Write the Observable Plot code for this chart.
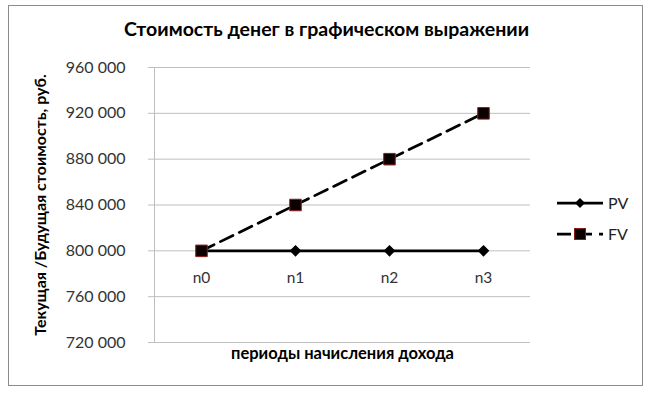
<!DOCTYPE html>
<html><head><meta charset="utf-8">
<script src="https://cdn.jsdelivr.net/npm/d3@7"></script>
<script src="https://cdn.jsdelivr.net/npm/@observablehq/plot@0.6"></script>
<style>
body{margin:0;background:#fff;font-family:Lato,"Noto Sans",sans-serif;}
#wrap{position:relative;width:653px;height:397px;overflow:hidden;}
#frame{position:absolute;left:8px;top:5px;width:635px;height:381px;border:1px solid #8c8c8c;box-sizing:border-box;}
#title{position:absolute;left:0;width:653px;top:17px;text-align:center;font-weight:bold;font-size:19.5px;color:#000;}
#chart{position:absolute;left:0;top:0;}
#legend{position:absolute;left:555px;top:187px;font-size:16px;color:#222;}
.li{display:flex;align-items:center;height:31px;}
.li svg{margin-right:3px;}
</style></head>
<body>
<div id="wrap">
<div id="frame"></div>
<div id="title">Стоимость денег в графическом выражении</div>
<div id="chart"></div>
<div id="legend"></div>
</div>
<script>
const periods = ["n0","n1","n2","n3"];
const pv = [800000, 800000, 800000, 800000];
const fv = [800000, 840000, 880000, 920000];
const yTicks = [720000, 760000, 800000, 840000, 880000, 920000, 960000];
const seriesNames = ["PV","FV"];

const pvData = periods.map((p,i)=>({period:p, value:pv[i]}));
const fvData = periods.map((p,i)=>({period:p, value:fv[i]}));
const fmt = v => d3.format(",")(v).replace(/,/g, " ");

const font = 'Lato, "Noto Sans", sans-serif';
const chart = Plot.plot({
  width: 653, height: 397,
  marginLeft: 154, marginRight: 123, marginTop: 67, marginBottom: 55,
  style: {fontFamily: font, fontSize: "13px", color: "#222", background: "transparent"},
  x: {type: "point", domain: periods, padding: 0.5, axis: null},
  y: {domain: [720000, 960000], axis: null},
  marks: [
    Plot.gridY(yTicks, {stroke: "#bfbfbf", strokeOpacity: 1, strokeWidth: 1}),
    Plot.axisY(yTicks, {tickSize: 6, tickPadding: 23, stroke: "#bfbfbf", tickFormat: fmt, fontSize: 16, fill: "#333", label: null}),
    Plot.frame({anchor: "left", stroke: "#bfbfbf"}),
    Plot.text(["Текущая /Будущая стоимость, руб."], {frameAnchor: "left", textAnchor: "middle", rotate: -90, dx: -114, fontWeight: "bold", fontSize: 16, fill: "#000"}),
    Plot.text(["периоды начисления дохода"], {frameAnchor: "bottom", dy: 16, fontWeight: "bold", fontSize: 16.5, fill: "#000"}),
    Plot.text(periods, {x: d => d, y: () => pv[0], dy: 27, fontSize: 15.5, fill: "#333"}),
    Plot.line(pvData, {x: "period", y: "value", stroke: "#000", strokeWidth: 2.75}),
    Plot.dot(pvData, {x: "period", y: "value", symbol: "diamond2", r: 4.3, fill: "#000", stroke: "#000"}),
    Plot.line(fvData, {x: "period", y: "value", stroke: "#000", strokeWidth: 2.75, strokeDasharray: "14,7"}),
    Plot.dot(fvData, {x: "period", y: "value", symbol: "square", r: 6.5, fill: "#0a0000", stroke: "#8b1c1c", strokeWidth: 1})
  ]
});
document.getElementById("chart").appendChild(chart);

// legend
const leg = document.getElementById("legend");
leg.innerHTML =
 `<div class="li"><svg width="50" height="16"><line x1="2" y1="8" x2="48" y2="8" stroke="#000" stroke-width="2.75"/><path d="M25 3 L30 8 L25 13 L20 8Z" fill="#000"/></svg><span>${seriesNames[0]}</span></div>` +
 `<div class="li"><svg width="50" height="16"><line x1="2" y1="8" x2="48" y2="8" stroke="#000" stroke-width="2.75" stroke-dasharray="14,7"/><rect x="19.5" y="2.5" width="11" height="11" fill="#0a0000" stroke="#8b1c1c"/></svg><span>${seriesNames[1]}</span></div>`;
</script>
</body></html>
